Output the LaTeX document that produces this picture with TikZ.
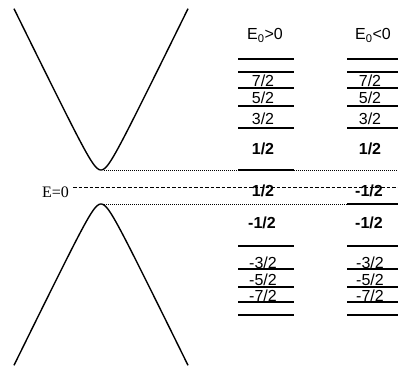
\documentclass[tikz,border=0pt]{standalone}
\usepackage{fontspec}
\setmainfont{Liberation Sans}
\newfontfamily\eqfont{Liberation Serif}
\usetikzlibrary{positioning}
\tikzset{
  level/.style={line width=1.5pt},
  band/.style={line width=1.4pt},
  lbl/.style={font=\fontsize{16}{18}\selectfont, anchor=base, inner sep=0pt},
  blbl/.style={font=\fontsize{16}{18}\selectfont\bfseries, anchor=base, inner sep=0pt},
}
\begin{document}
\begin{tikzpicture}[x=1pt,y=-1pt]
  \useasboundingbox (0,0) rectangle (398,366);

  % the two bands
  \draw[band] plot[domain=14:188,samples=150,smooth] (\x,{187-10*sqrt((0.204*(\x-101))^2+1.7^2)});
  \draw[band] plot[domain=14:188,samples=150,smooth] (\x,{187+10*sqrt((0.204*(\x-101))^2+1.7^2)});
  \coordinate (vtop) at (104,170);
  \coordinate (vbot) at (104,204);
  \coordinate (etop) at (398,170);
  \coordinate (ebot) at (398,204);
  \coordinate (zl) at (73,187);
  \coordinate (zr) at (398,187);

  \draw[line width=0.6pt,dash pattern=on 0.9pt off 1.1pt] (vtop) -- (etop);
  \draw[line width=0.6pt,dash pattern=on 0.9pt off 1.1pt] (vbot) -- (ebot);
  \draw[line width=0.7pt,dash pattern=on 3.5pt off 2pt] (zl) -- (zr);
  \node[font=\fontsize{16}{18}\selectfont\eqfont,anchor=base east,inner sep=0pt] (ezero) at (69,197) {E=0};

  % levels
  \foreach \y in {59,72,88,106,128,246,269,287,302,315} {
    \draw[level] (238,\y) -- (294,\y);
    \draw[level] (347,\y) -- (398,\y);
  }
  \draw[level] (238,170) -- (294,170);
  \draw[level] (347,204) -- (398,204);

  \node[lbl] (hpos) at (265,40) {E\textsubscript{0}>0};
  \node[lbl] (hneg) at (373,40) {E\textsubscript{0}<0};

  \foreach \b/\t [count=\i] in {87/{7/2},104/{5/2},125/{3/2},268/{-3/2},285/{-5/2},301/{-7/2}} {
    \node[lbl] (pa\i) at (263,\b) {\t};
    \node[lbl] (na\i) at (370,\b) {\t};
  }
  \node[blbl] (pb1) at (263,154) {1/2};
  \node[blbl] (nb1) at (370,154) {1/2};
  \node[blbl] (pb2) at (263,196) {1/2};
  \node[blbl] (nb2) at (369,196) {-1/2};
  \node[blbl] (pb3) at (262,228) {-1/2};
  \node[blbl] (nb3) at (369,228) {-1/2};
\end{tikzpicture}
\end{document}
